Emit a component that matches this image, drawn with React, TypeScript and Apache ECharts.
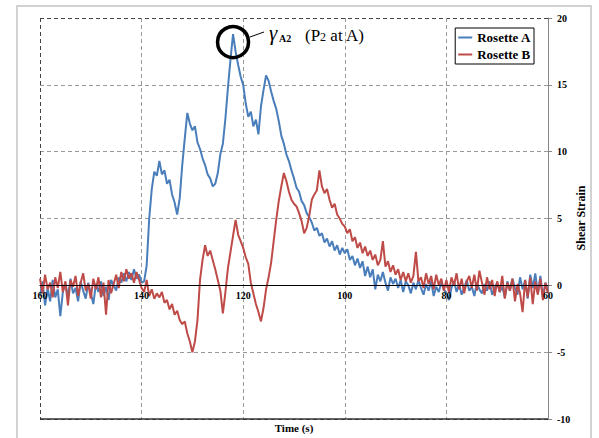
import React, { useEffect, useRef } from "react";
import * as echarts from "echarts";

// Time axis: samples every 0.5 s from 160 s down to 60 s
const timeStart = 160;
const timeStep = 0.5;
const xTickLabels = [160, 140, 120, 100, 80, 60];
const yTickLabels = [-10, -5, 0, 5, 10, 15, 20];
const seriesNames = ["Rosette A", "Rosette B"];

const rosetteA = [
  -0.8, 0.3, -1.5, -0.2, -1.2, 0.4, -0.9, -0.3, -2.3, -0.5,
  0.2, -0.9, 0.5, -0.6, -0.2, -1.2, 0.3, -0.4, -1.0, 0.2,
  -0.6, -1.4, 0.1, -0.5, 0.3, -0.8, -0.1, -1.1, 0.4, 0.0,
  -0.4, 0.6, 0.2, 0.9, 0.3, 1.0, 0.4, 1.2, 0.5, 0.8,
  0.2, 0.3, 1.5, 5.0, 7.2, 8.5, 8.2, 9.3, 8.3, 8.6,
  7.6, 7.9, 6.8, 6.2, 5.3, 6.5, 9.0, 11.0, 12.9, 12.1,
  11.6, 11.9, 10.7, 10.2, 9.5, 9.0, 8.3, 8.0, 7.4, 7.6,
  8.4, 9.8, 10.6, 12.5, 14.8, 16.9, 18.8, 17.5, 16.5, 15.6,
  15.0, 13.6, 12.6, 13.0, 11.9, 12.4, 11.3, 13.4, 14.6, 15.7,
  15.3, 14.5, 13.8, 13.2, 12.3, 11.2, 10.6, 9.8, 9.3, 8.6,
  8.0, 7.3, 7.0, 6.3, 6.0, 5.4, 5.1, 4.7, 4.1, 4.3,
  3.7, 3.9, 3.2, 3.5, 2.9, 3.3, 2.6, 3.0, 2.3, 2.8,
  2.4, 2.7, 1.9, 2.2, 1.5, 2.0, 1.3, 1.8, 0.7, 1.4,
  0.6, 1.2, -0.3, 0.8, 0.3, 1.0, 0.2, -0.4, 0.6, 0.1,
  0.5, -0.2, 0.4, -0.5, 0.3, 0.0, -0.6, 0.2, -0.3, 0.4,
  -0.2, -0.7, 0.1, -0.4, 0.3, -0.8, -0.1, -0.5, 0.2, -0.3,
  -0.6, -1.1, -0.2, 0.3, -0.5, 0.1, -0.7, -0.2, 0.4, -0.4,
  -0.1, -0.8, 0.2, -0.3, -0.6, 0.1, -0.4, 0.3, -0.7, -0.2,
  0.2, -0.5, -0.1, -0.9, 0.3, -0.4, 0.5, -0.2, -0.7, 0.6,
  -0.3, 0.4, -1.0, 0.8, -0.2, 0.9, -0.6, 0.7, -0.9, 0.2,
  -0.5,
];

const rosetteB = [
  0.5, -0.6, 0.8, -0.3, 0.2, -0.9, 0.6, -0.2, 1.0, -0.5,
  0.3, -1.5, 0.4, -0.1, 0.7, -0.8, 0.2, 0.9, -0.4, 0.1,
  -1.0, 0.5, -0.3, 0.6, -0.9, 0.2, -2.2, 0.4, -0.6, 0.1,
  0.8, -0.2, 1.0, 0.3, 1.2, 0.5, 0.9, 0.2, 1.0, 0.4,
  -0.2, -0.5, 0.4, -0.8, -0.3, -1.0, -0.6, -0.9, -0.5, -1.3,
  -1.1, -1.8, -1.4, -2.2, -1.9, -2.6, -2.9, -2.7, -3.6, -4.2,
  -5.0, -4.2, -2.6, 0.4, 1.9, 3.0, 2.2, 2.6, 1.9, 1.2,
  0.4, -0.4, -2.1, -0.5, 1.3, 2.5, 3.7, 4.9, 3.8, 3.3,
  2.8, 2.1, 1.6, 0.2, -0.6, -1.4, -2.0, -2.7, -1.7, -0.3,
  0.6, 1.7, 3.3, 4.9, 6.3, 7.4, 8.4, 7.8, 7.0, 6.4,
  6.1, 5.9, 5.4, 4.8, 3.9, 4.3, 5.2, 6.4, 6.8, 7.1,
  8.6, 7.4, 6.9, 7.2, 6.4, 5.8, 6.1, 5.3, 5.0, 4.6,
  4.4, 3.9, 4.2, 3.3, 3.6, 2.8, 3.2, 2.4, 2.9, 2.2,
  2.6, 1.9, 2.3, 1.5, 1.9, 3.3, 1.4, 1.8, 1.0, 1.5,
  0.8, 1.2, 0.4, 1.0, 0.3, 0.9, 0.2, 0.7, 2.5, 0.3,
  0.6, -0.2, 0.9, 0.1, 0.7, -0.3, 0.8, 0.0, 0.5, -0.4,
  0.4, -0.5, 0.6, 0.0, 0.9, -0.3, 0.5, -0.6, 0.3, 0.7,
  -0.2, 0.8, -0.4, 1.1, 0.2, -0.7, 0.6, -0.3, 0.4, -0.8,
  0.3, -0.5, 0.7, -1.0, 0.2, -0.4, 0.5, -1.2, 0.1, -0.6,
  -2.0, 0.4, -0.9, 0.6, -1.4, 0.3, -0.7, 0.5, -1.1, 0.2,
  -0.6,
];

const peakAnnotation = [122, 18.2];

export default function App() {
  const ref = useRef<HTMLDivElement>(null);

  useEffect(() => {
    if (!ref.current) return;
    const chart = echarts.init(ref.current, null, { renderer: "svg" });
    const font = "'Liberation Serif', 'Times New Roman', serif";
    const times = rosetteA.map((_, i) => timeStart - i * timeStep);
    const dataA = rosetteA.map((v, i) => [times[i], v]);
    const dataB = rosetteB.map((v, i) => [times[i], v]);

    const grid = "#999999";
    const dark = "#444444";
    const xMin = xTickLabels[xTickLabels.length - 1];
    const xMax = xTickLabels[0];
    const yMin = yTickLabels[0];
    const yMax = yTickLabels[yTickLabels.length - 1];

    const textBase = {
      fill: "#000",
      align: "left",
      textAlign: "left",
      verticalAlign: "middle",
      textVerticalAlign: "middle",
    };

    chart.setOption({
      animation: false,
      backgroundColor: "#ffffff",
      grid: { left: 40, right: 51, top: 18, bottom: 19 },
      xAxis: [
        {
          // grid lines, beneath the data
          type: "value",
          min: xMin,
          max: xMax,
          interval: 20,
          inverse: true,
          position: "bottom",
          axisLine: { show: false, onZero: false },
          axisTick: { show: false },
          axisLabel: { show: false },
          splitLine: {
            show: true,
            lineStyle: { type: [4, 3], width: 1, color: [grid, grid, grid, grid, grid, dark] },
          },
        },
        {
          // axis line and labels on the zero line, above the data
          type: "value",
          min: xMin,
          max: xMax,
          interval: 20,
          inverse: true,
          position: "bottom",
          offset: 0,
          z: 5,
          axisLine: { show: true, onZero: false, lineStyle: { color: "#000", width: 1.2 } },
          axisTick: { show: false },
          axisLabel: {
            color: "#000",
            fontFamily: font,
            fontWeight: "bold",
            fontSize: 10,
            margin: 5,
          },
          splitLine: { show: false },
        },
      ],
      yAxis: {
        type: "value",
        min: yMin,
        max: yMax,
        interval: 5,
        position: "right",
        axisLine: { show: true, onZero: false, lineStyle: { color: "#888", width: 1 } },
        axisTick: { show: true, length: 4, lineStyle: { color: "#888" } },
        axisLabel: {
          color: "#000",
          fontFamily: font,
          fontWeight: "bold",
          fontSize: 10,
          margin: 9,
        },
        splitLine: {
          show: true,
          lineStyle: { type: [4, 3], width: 1, color: [dark, grid, grid, grid, grid, grid, dark] },
        },
      },
      legend: {
        orient: "vertical",
        right: 65,
        top: 28,
        padding: [3, 3, 3, 3],
        itemGap: 4,
        itemWidth: 14,
        itemHeight: 2,
        icon: "rect",
        borderColor: "#000",
        borderWidth: 1,
        borderRadius: 0,
        backgroundColor: "#fff",
        textStyle: { fontFamily: font, fontWeight: "bold", fontSize: 13, color: "#000" },
        data: seriesNames,
      },
      series: [
        {
          name: seriesNames[0],
          type: "line",
          xAxisIndex: 0,
          data: dataA,
          symbol: "none",
          showSymbol: false,
          lineStyle: { color: "#4A7EBB", width: 2 },
          itemStyle: { color: "#4A7EBB" },
          markPoint: {
            silent: true,
            symbol: "circle",
            symbolSize: 31,
            label: { show: false },
            itemStyle: { color: "rgba(0,0,0,0)", borderColor: "#000", borderWidth: 3.5 },
            data: [{ coord: peakAnnotation }],
          },
        },
        {
          name: seriesNames[1],
          type: "line",
          xAxisIndex: 0,
          data: dataB,
          symbol: "none",
          showSymbol: false,
          lineStyle: { color: "#BE4B48", width: 2 },
          itemStyle: { color: "#BE4B48" },
        },
      ],
    });

    // Positions from the axes' own scales
    const bl = chart.convertToPixel({ gridIndex: 0 }, [xMax, yMin]) as number[];
    const br = chart.convertToPixel({ gridIndex: 0 }, [xMin, yMin]) as number[];
    const zero = chart.convertToPixel({ gridIndex: 0 }, [xMax, 0]) as number[];

    chart.setOption({
      xAxis: [{}, { offset: -(bl[1] - zero[1]) }],
      graphic: [
        {
          type: "rect",
          silent: true,
          shape: { x: 17, y: 6, width: 574, height: 444 },
          style: { fill: "none", stroke: "#c4c4c4", lineWidth: 1.5 },
        },
        {
          type: "line",
          silent: true,
          shape: { x1: bl[0], y1: bl[1], x2: br[0], y2: br[1] },
          style: { stroke: "#333", lineWidth: 1.3 },
        },
        {
          type: "line",
          silent: true,
          shape: { x1: 250, y1: 37, x2: 264, y2: 32 },
          style: { stroke: "#000", lineWidth: 1 },
        },
        {
          type: "text",
          x: 269,
          y: 33,
          style: { ...textBase, text: "γ", font: "italic 21px 'Liberation Serif', serif" },
        },
        {
          type: "text",
          x: 279,
          y: 38,
          style: { ...textBase, text: "A2", font: "bold 10px 'Liberation Serif', serif" },
        },
        {
          type: "text",
          x: 305,
          y: 35,
          style: {
            ...textBase,
            text: "(P{b|2} at A)",
            font: "17px 'Liberation Serif', serif",
            rich: {
              b: { fontSize: 12, fontFamily: "'Liberation Serif', serif", fill: "#000", padding: [4, 0, 0, 0] },
            },
          },
        },
        {
          type: "text",
          x: 294,
          y: 428,
          style: {
            ...textBase,
            text: "Time (s)",
            font: "bold 11px 'Liberation Serif', serif",
            align: "center",
            textAlign: "center",
          },
        },
        {
          type: "text",
          x: 581,
          y: 218,
          rotation: Math.PI / 2,
          style: {
            ...textBase,
            text: "Shear Strain",
            font: "bold 12px 'Liberation Serif', serif",
            align: "center",
            textAlign: "center",
          },
        },
      ],
    });

    return () => chart.dispose();
  }, []);

  return (
    <div
      ref={ref}
      style={{ position: "absolute", left: 0, top: 0, width: 599, height: 438 }}
    />
  );
}
